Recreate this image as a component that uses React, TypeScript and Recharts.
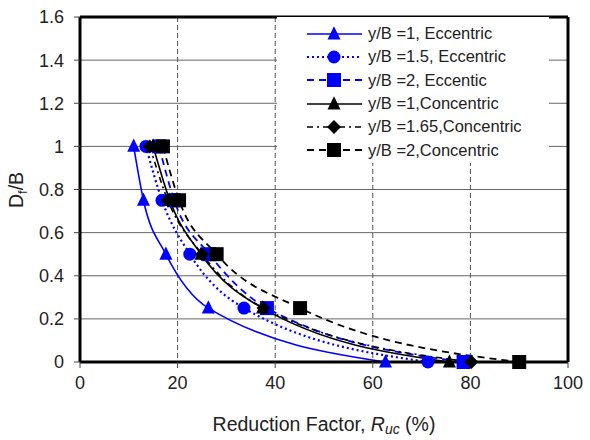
import React from 'react';
import {
  CartesianGrid,
  Label,
  Legend,
  Line,
  LineChart,
  ReferenceLine,
  XAxis,
  YAxis,
} from 'recharts';

// Df/B levels shared by every series
const depthRatio = [1, 0.75, 0.5, 0.25, 0];

// reduction factor Ruc (%)
const ecc1 = [11, 13, 17.6, 26.3, 62.6];
const ecc15 = [13.5, 16.8, 22.5, 33.6, 71.3];
const ecc2 = [16.2, 19.3, 26.5, 38.3, 78.6];
const con1 = [15, 18.4, 24.8, 37.4, 75.7];
const con165 = [14.3, 18, 25, 37.6, 80.2];
const con2 = [17, 20.3, 28, 45.1, 90];

const seriesNames = [
  'y/B =1, Eccentric',
  'y/B =1.5, Eccentric',
  'y/B =2, Eccentic',
  'y/B =1,Concentric',
  'y/B =1.65,Concentric',
  'y/B =2,Concentric',
];
const seriesValues = [ecc1, ecc15, ecc2, con1, con165, con2];

const xTicks = [0, 20, 40, 60, 80, 100];
const yTicks = [0, 0.2, 0.4, 0.6, 0.8, 1, 1.2, 1.4, 1.6];

type Shape = 'triangle' | 'circle' | 'square' | 'diamond';
type Style = { color: string; dash?: string; width: number; shape: Shape };

const BLUE = '#0000ff';
const styles: Style[] = [
  { color: BLUE, width: 1.6, shape: 'triangle' },
  { color: BLUE, dash: '2 3', width: 2.2, shape: 'circle' },
  { color: BLUE, dash: '7 5', width: 1.8, shape: 'square' },
  { color: '#000', width: 1.6, shape: 'triangle' },
  { color: '#000', dash: '6 4 2 4', width: 1.6, shape: 'diamond' },
  { color: '#000', dash: '7 5', width: 1.8, shape: 'square' },
];

const FONT = '"Liberation Sans", Arial, sans-serif';

const Marker = ({ shape, cx, cy, color }: { shape: Shape; cx: number; cy: number; color: string }) => {
  const s = 13;
  if (shape === 'triangle') {
    return (
      <polygon
        points={`${cx},${cy - s * 0.6} ${cx - s / 2},${cy + s * 0.42} ${cx + s / 2},${cy + s * 0.42}`}
        fill={color}
      />
    );
  }
  if (shape === 'circle') return <circle cx={cx} cy={cy} r={s / 2} fill={color} />;
  if (shape === 'square') return <rect x={cx - 7} y={cy - 7} width={14} height={14} fill={color} />;
  return (
    <polygon points={`${cx},${cy - 7} ${cx + 7},${cy} ${cx},${cy + 7} ${cx - 7},${cy}`} fill={color} />
  );
};

const LegendBox = () => (
  <div style={{ background: '#fff', width: 272, height: 146, paddingTop: 5, boxSizing: 'border-box' }}>
    {seriesNames.map((name, i) => {
      const st = styles[i];
      return (
        <div key={name} style={{ display: 'flex', alignItems: 'center', height: 23.3 }}>
          <svg width={88} height={20} style={{ flex: 'none' }}>
            <line x1={30} x2={85} y1={10} y2={10} stroke={st.color} strokeWidth={st.width} strokeDasharray={st.dash} />
            <Marker shape={st.shape} cx={57} cy={10} color={st.color} />
          </svg>
          <span style={{ fontFamily: FONT, fontSize: 16.5, color: '#222', marginLeft: 3, whiteSpace: 'nowrap' }}>
            {name}
          </span>
        </div>
      );
    })}
  </div>
);

const App = () => {
  return (
    <div style={{ position: 'absolute', left: 0, top: 0, background: '#fff' }}>
      <LineChart width={590} height={440} margin={{ top: 17, right: 22, bottom: 0, left: 0 }}>
        <CartesianGrid vertical={false} stroke="#666" />
        <CartesianGrid horizontal={false} stroke="#555" strokeDasharray="5 3" />
        <XAxis
          type="number"
          dataKey="x"
          domain={[0, 100]}
          ticks={xTicks}
          height={78}
          tickSize={6}
          tickMargin={8}
          axisLine={{ stroke: '#000', strokeWidth: 3 }}
          tickLine={{ stroke: '#444' }}
          tick={{ fill: '#222', fontSize: 18, fontFamily: FONT }}
        >
          <Label
            content={() => (
              <text x={324} y={431} textAnchor="middle" fontFamily={FONT} fontSize={19.5} fill="#222">
                Reduction Factor,{' '}
                <tspan fontStyle="italic">R</tspan>
                <tspan fontStyle="italic" fontSize={14} dy={3}>uc</tspan>
                <tspan dy={-3}> (%)</tspan>
              </text>
            )}
          />
        </XAxis>
        <YAxis
          type="number"
          domain={[0, 1.6]}
          ticks={yTicks}
          width={80}
          tickSize={6}
          tickMargin={10}
          axisLine={{ stroke: '#000', strokeWidth: 3 }}
          tickLine={{ stroke: '#444' }}
          tick={{ fill: '#222', fontSize: 18, fontFamily: FONT }}
        >
          <Label
            content={() => (
              <text
                x={23}
                y={190}
                transform="rotate(-90 23 190)"
                textAnchor="middle"
                fontFamily={FONT}
                fontSize={19.5}
                fill="#222"
              >
                D<tspan fontSize={13} dy={4}>f</tspan>
                <tspan dy={-4}>/B</tspan>
              </text>
            )}
          />
        </YAxis>
        <ReferenceLine y={1.6} stroke="#000" strokeWidth={3} />
        <ReferenceLine x={100} stroke="#000" strokeWidth={3} />
        {seriesValues.map((xs, i) => {
          const st = styles[i];
          const data = xs.map((x, j) => ({ x, y: depthRatio[j] }));
          return (
            <Line
              key={seriesNames[i]}
              data={data}
              dataKey="y"
              name={seriesNames[i]}
              type="monotone"
              stroke={st.color}
              strokeWidth={st.width}
              strokeDasharray={st.dash}
              isAnimationActive={false}
              activeDot={false}
              dot={(p: any) => (
                <Marker key={`${i}-${p.index}`} shape={st.shape} cx={p.cx} cy={p.cy} color={st.color} />
              )}
            />
          );
        })}
        <Legend
          layout="vertical"
          align="center"
          verticalAlign="middle"
          content={() => <LegendBox />}
          wrapperStyle={{ left: 277, top: 17, width: 272, height: 146 }}
        />
      </LineChart>
    </div>
  );
};

export default App;
